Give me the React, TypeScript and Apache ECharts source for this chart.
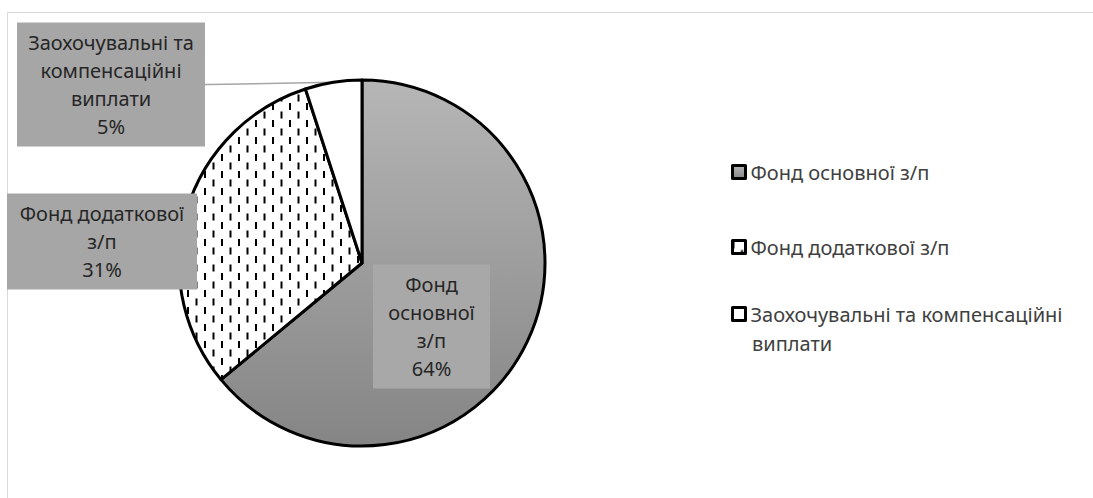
import React, { useEffect, useRef } from "react";
import * as echarts from "echarts";

const categories = [
  "Фонд основної з/п",
  "Фонд додаткової з/п",
  "Заохочувальні та компенсаційні виплати",
];
const values = [64, 31, 5];
const labelTexts = [
  ["Фонд", "основної", "з/п"],
  ["Фонд додаткової", "з/п"],
  ["Заохочувальні та", "компенсаційні", "виплати"],
];
const legendFirstLines = ["Фонд основної з/п", "Фонд додаткової з/п", "Заохочувальні та компенсаційні"];
const legendSecondLine = "виплати";

const FONT = "Noto Sans";
const FS = 20;

const labelBoxes = [
  { x: 431.5, y: 326.5, w: 117 },
  { x: 102, y: 241.5, w: 190 },
  { x: 111, y: 84.5, w: 188 },
];
const legendTops = [162, 237, 304];

const tileSvg =
  "<svg xmlns='http://www.w3.org/2000/svg' width='17' height='17'>" +
  "<rect width='17' height='17' fill='white'/>" +
  "<rect x='0' y='1' width='2' height='7' fill='black'/>" +
  "<rect x='8.5' y='9.5' width='2' height='7' fill='black'/>" +
  "</svg>";
const tileUrl = "data:image/svg+xml;charset=utf-8," + encodeURIComponent(tileSvg);

export default function App() {
  const ref = useRef<HTMLDivElement>(null);
  useEffect(() => {
    if (!ref.current) return;
    const chart = echarts.init(ref.current, null, { renderer: "svg" });
    const fills: any[] = [
      {
        type: "linear",
        x: 0,
        y: 0,
        x2: 0,
        y2: 1,
        colorStops: [
          { offset: 0, color: "#b6b6b6" },
          { offset: 1, color: "#858585" },
        ],
      },
      { image: tileUrl, repeat: "repeat", imageWidth: 17, imageHeight: 17 },
      "#ffffff",
    ];
    const data = categories.map((name, i) => ({
      name,
      value: values[i],
      itemStyle: { color: fills[i] },
      label: {
        position: i === 0 ? "inside" : "outside",
        width: labelBoxes[i].w,
        backgroundColor: i === 0 ? "#a8a8a8" : "#a6a6a6",
      },
      labelLine: {
        show: i === 2,
        length: 8,
        length2: 5,
        lineStyle: { color: "#a6a6a6", width: 1.5 },
      },
    }));
    const legends = categories.map((name, i) => ({
      data: [name],
      left: 731,
      top: legendTops[i],
      orient: "vertical",
      icon: "rect",
      itemWidth: 13,
      itemHeight: 13,
      itemGap: 0,
      padding: 0,
      selectedMode: false,
      itemStyle: { borderColor: "#000", borderWidth: 3 },
      formatter: () => legendFirstLines[i],
      textStyle: { fontFamily: FONT, fontSize: FS, color: "#404040", padding: [0, 0, 0, 0] },
    }));
    chart.setOption({
      animation: false,
      backgroundColor: "#ffffff",
      legend: legends,
      graphic: [
        {
          type: "rect",
          shape: { x: 7.5, y: 12.5, width: 1200, height: 600 },
          style: { fill: "none", stroke: "#d9d9d9", lineWidth: 1 },
          silent: true,
        },
        {
          type: "text",
          left: 752,
          top: legendTops[2] + 29,
          style: { text: legendSecondLine, font: `${FS}px "${FONT}"`, fill: "#404040" },
        },
      ],
      series: [
        {
          type: "pie",
          center: [362, 263],
          radius: 183,
          startAngle: 90,
          clockwise: true,
          avoidLabelOverlap: false,
          itemStyle: { borderColor: "#000", borderWidth: 3 },
          emphasis: { disabled: true },
          label: {
            show: true,
            fontFamily: FONT,
            fontSize: FS,
            lineHeight: 28,
            color: "#262626",
            align: "center",
            padding: [6, 0, 6, 0],
            formatter: (p: any) =>
              labelTexts[p.dataIndex].join("\n") + "\n" + Math.round(p.percent) + "%",
          },
          labelLayout: (p: any) => ({
            x: labelBoxes[p.dataIndex].x,
            y: labelBoxes[p.dataIndex].y,
            align: "center",
            verticalAlign: "middle",
          }),
          data,
        },
      ],
    });
    return () => chart.dispose();
  }, []);
  return (
    <div
      ref={ref}
      style={{ position: "fixed", left: 0, top: 0, width: 1093, height: 498 }}
    />
  );
}
